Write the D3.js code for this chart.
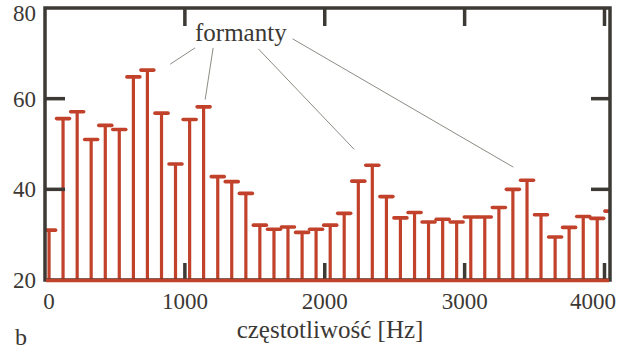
<!DOCTYPE html>
<html>
<head>
<meta charset="utf-8">
<script src="https://cdn.jsdelivr.net/npm/d3@7"></script>
<style>
  body { margin: 0; background: #fff; }
  text { font-family: "Liberation Serif", serif; fill: #3b3834; }
</style>
</head>
<body>
<div id="chart"></div>
<script>
// harmonic frequencies [Hz] and levels [dB]
var freqs = [29, 129, 230, 330, 431, 531, 632, 732, 833, 933,
  1034, 1134, 1235, 1335, 1436, 1536, 1637, 1737, 1838, 1938,
  2039, 2139, 2240, 2340, 2441, 2541, 2642, 2742, 2843, 2943,
  3044, 3144, 3245, 3345, 3446, 3546, 3647, 3747, 3848, 3948, 4049];
var levels = [31.0, 55.6, 57.1, 51.0, 54.1, 53.2, 64.8, 66.3, 56.8, 45.6,
  55.4, 58.2, 42.8, 41.7, 39.1, 32.1, 31.2, 31.7, 30.5, 31.2,
  32.1, 34.7, 41.8, 45.3, 38.4, 33.7, 34.9, 32.8, 33.4, 32.8,
  33.9, 33.9, 36.0, 40.0, 42.0, 34.4, 29.5, 31.6, 34.0, 33.6, 35.2];

var xTicks = [0, 1000, 2000, 3000, 4000];
var yTicks = [20, 40, 60, 80];
var xTitle = "częstotliwość [Hz]";
var panelLabel = "b";
var noteLabel = "formanty";
var noteAt = [1400, 72.8];
// leader lines: [from Hz, from dB, to Hz, to dB]
var noteLines = [
  [1072, 71.2, 895, 67.6],
  [1202, 71.2, 1145, 59.8],
  [1525, 71.0, 2211, 48.8],
  [1770, 73.2, 3348, 44.9]
];

var width = 617, height = 352,
    padL = 45, padR = 610, padT = 8, padB = 280,
    ink = "#3d3a35", red = "#c1412b";

var x = d3.scaleLinear().domain([0, 4000]).range([padL, 604.5]);
var y = d3.scaleLinear().domain([20, 80]).range([padB, padT]);

var svg = d3.select("#chart")
  .append("svg")
    .attr("width", width)
    .attr("height", height);

svg.append("clipPath").attr("id", "plot")
  .append("rect")
    .attr("x", padL).attr("y", padT)
    .attr("width", padR - padL).attr("height", padB - padT + 3);

var stems = svg.append("g").attr("clip-path", "url(#plot)");
var data = freqs.map((f, i) => ({f: f, v: levels[i]}));

stems.selectAll("line.stem")
  .data(data)
  .join("line")
    .attr("class", "stem")
    .attr("x1", d => x(d.f)).attr("x2", d => x(d.f))
    .attr("y1", y(20)).attr("y2", d => y(d.v))
    .attr("stroke", red)
    .attr("stroke-width", 3.2);

stems.selectAll("line.cap")
  .data(data)
  .join("line")
    .attr("class", "cap")
    .attr("x1", d => x(d.f) - 6.5).attr("x2", d => x(d.f) + 6.5)
    .attr("y1", d => y(d.v)).attr("y2", d => y(d.v))
    .attr("stroke", red)
    .attr("stroke-width", 3.6)
    .attr("stroke-linecap", "round");

// frame
svg.append("rect")
  .attr("x", padL).attr("y", padT)
  .attr("width", padR - padL).attr("height", padB - padT)
  .attr("fill", "none")
  .attr("stroke", ink)
  .attr("stroke-width", 3.5);

// inner ticks
var tk = svg.append("g").attr("stroke", ink).attr("stroke-width", 3.5);
xTicks.slice(1).forEach(t => {
  tk.append("line").attr("x1", x(t)).attr("x2", x(t)).attr("y1", padT).attr("y2", padT + 18);
  tk.append("line").attr("x1", x(t)).attr("x2", x(t)).attr("y1", padB).attr("y2", padB - 17);
});
yTicks.slice(1, -1).forEach(t => {
  tk.append("line").attr("x1", padL).attr("x2", padL + 20).attr("y1", y(t)).attr("y2", y(t));
  tk.append("line").attr("x1", padR).attr("x2", padR - 19).attr("y1", y(t)).attr("y2", y(t));
});

// red baseline over the bottom edge
svg.append("line")
  .attr("x1", padL + 1).attr("x2", padR - 1)
  .attr("y1", y(20) + 0.5).attr("y2", y(20) + 0.5)
  .attr("stroke", red)
  .attr("stroke-width", 3.5);

// tick labels
svg.selectAll("text.xl")
  .data(xTicks)
  .join("text")
    .attr("class", "xl")
    .attr("x", d => d === 4000 ? 616 : x(d) + (d === 0 ? 4 : 0))
    .attr("y", 309)
    .attr("text-anchor", d => d === 4000 ? "end" : "middle")
    .style("font-size", "23px")
    .text(d => d);

svg.selectAll("text.yl")
  .data(yTicks)
  .join("text")
    .attr("class", "yl")
    .attr("x", 36)
    .attr("y", d => Math.max(y(d) + 8, 21))
    .attr("text-anchor", "end")
    .style("font-size", "23px")
    .text(d => d);

svg.append("text")
  .attr("x", 330).attr("y", 338)
  .attr("text-anchor", "middle")
  .style("font-size", "25px")
  .text(xTitle);

svg.append("text")
  .attr("x", 15).attr("y", 345)
  .style("font-size", "24px")
  .text(panelLabel);

// formant annotation
svg.selectAll("line.note")
  .data(noteLines)
  .join("line")
    .attr("class", "note")
    .attr("x1", d => x(d[0])).attr("y1", d => y(d[1]))
    .attr("x2", d => x(d[2])).attr("y2", d => y(d[3]))
    .attr("stroke", "#8c8b84")
    .attr("stroke-width", 1);

svg.append("text")
  .attr("x", x(noteAt[0])).attr("y", y(noteAt[1]))
  .attr("text-anchor", "middle")
  .style("font-size", "25px")
  .text(noteLabel);
</script>
</body>
</html>
